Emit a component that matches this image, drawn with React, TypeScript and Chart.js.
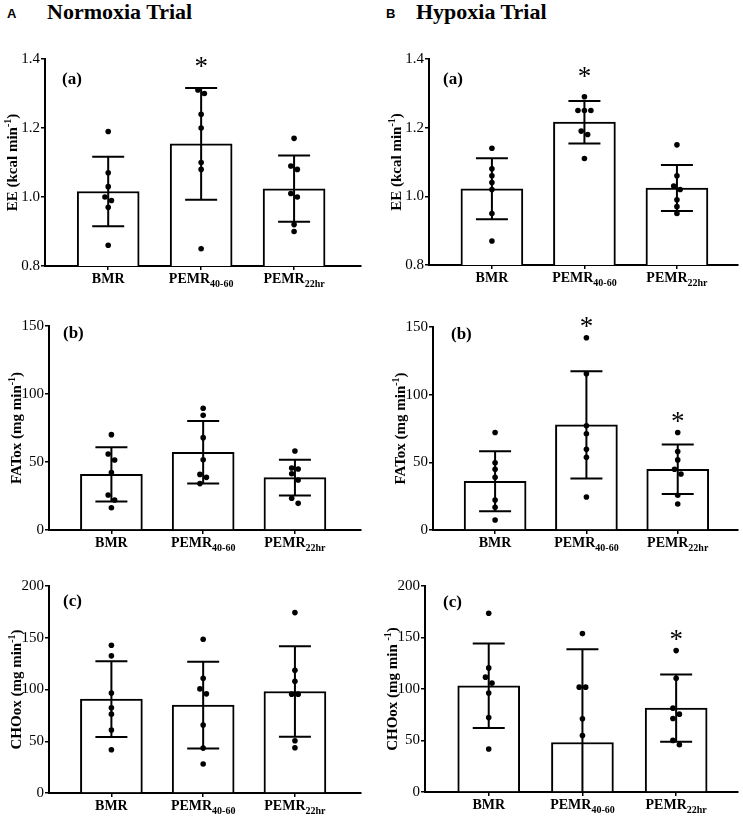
import React, { useEffect, useRef } from 'react';
import { Chart, registerables } from 'chart.js';

Chart.register(...registerables);

const SERIF = "'Liberation Serif', 'Times New Roman', serif";
const SANS = "'Liberation Sans', Arial, sans-serif";

// categories: main text + subscript
const categoryNames = ['BMR', 'PEMR', 'PEMR'];
const categorySubs = ['', '40-60', '22hr'];

// y ticks
const eeTicks = [0.8, 1.0, 1.2, 1.4];
const eeTickLabels = ['0.8', '1.0', '1.2', '1.4'];
const fatTicks = [0, 50, 100, 150];
const fatTickLabels = ['0', '50', '100', '150'];
const choTicks = [0, 50, 100, 150, 200];
const choTickLabels = ['0', '50', '100', '150', '200'];

// axis titles: text, superscript, closing
const eeTitle = ['EE (kcal min', '-1', ')'];
const fatTitle = ['FATox (mg min', '-1', ')'];
const choTitle = ['CHOox (mg min', '-1', ')'];
const choHypTitle = ['CHOox (mg min ', '-1', ')'];

// Normoxia (a) EE
const eeNormMean = [1.016, 1.154, 1.024];
const eeNormSd = [0.101, 0.162, 0.096];
const eeNormPoints = [
  [1.19, 1.07, 1.03, 1.0, 0.99, 0.97, 0.86],
  [1.31, 1.3, 1.24, 1.2, 1.1, 1.08, 0.85],
  [1.17, 1.09, 1.08, 1.01, 1.0, 0.92, 0.9],
];
const eeNormStars = [null, 1.39, null];

// Normoxia (b) FATox
const fatNormMean = [40.9, 57.1, 38.5];
const fatNormSd = [20.0, 23.0, 13.2];
const fatNormPoints = [
  [70.1, 55.9, 51.5, 42.2, 25.7, 22.1, 16.4],
  [89.5, 84.3, 67.9, 51.7, 40.9, 38.7, 34.1],
  [58.1, 45.6, 44.9, 41.4, 36.8, 23.3, 19.6],
];
const fatNormStars = [null, null, null];

// Normoxia (c) CHOox
const choNormMean = [90.7, 84.9, 98.1];
const choNormSd = [36.6, 41.8, 43.8];
const choNormPoints = [
  [142.8, 132.5, 96.5, 82.3, 76.2, 60.8, 41.8],
  [148.6, 110.9, 100.6, 95.8, 65.6, 43.4, 28.0],
  [174.3, 118.6, 108.0, 95.5, 95.5, 50.5, 43.7],
];
const choNormStars = [null, null, null];

// Hypoxia (a) EE
const eeHypMean = [1.022, 1.216, 1.024];
const eeHypSd = [0.089, 0.062, 0.067];
const eeHypPoints = [
  [1.14, 1.08, 1.06, 1.04, 1.02, 0.95, 0.87],
  [1.29, 1.25, 1.25, 1.25, 1.19, 1.18, 1.11],
  [1.15, 1.06, 1.03, 1.02, 0.99, 0.97, 0.95],
];
const eeHypStars = [null, 1.36, null];

// Hypoxia (b) FATox
const fatHypMean = [36.0, 77.7, 44.9];
const fatHypSd = [22.2, 39.6, 18.3];
const fatHypPoints = [
  [72.0, 49.6, 44.9, 39.0, 22.2, 16.8, 7.4],
  [142.1, 115.5, 77.0, 71.1, 59.7, 53.8, 24.4],
  [72.0, 58.0, 51.8, 44.9, 41.4, 25.7, 19.2],
];
const fatHypStars = [null, 153, 82.8];

// Hypoxia (c) CHOox
const choHypMean = [103.1, 48.1, 81.4];
const choHypSd = [41.0, 90.5, 32.6];
const choHypPoints = [
  [173.5, 120.5, 111.5, 105.7, 96.0, 72.4, 41.7],
  [153.8, 101.8, 101.8, 71.1, 54.9],
  [137.3, 110.5, 81.4, 75.6, 71.4, 50.1, 45.9],
];
const choHypStars = [null, null, 151.5];

const X_MIN = -0.68;
const PAD_T = 40;
const PAD_R = 3;
const X_H = 30;
const DOT_GAP = 6.3;
const DOT_STEP = 6.5;
const CAP_HALF = 16;

interface Layout {
  left: number;
  axisX: number;
  top: number;
  bottom: number;
  right: number;
  xMax: number;
  tagDx: number;
  tagDy: number;
}

interface PanelDef {
  layout: Layout;
  mean: number[];
  sd: number[];
  points: number[][];
  stars: (number | null)[];
  ticks: number[];
  tickLabels: string[];
  title: string[];
  tag: string;
}

const panels: PanelDef[] = [
  {
    layout: { left: 0, axisX: 45, top: 59, bottom: 266, right: 362, xMax: 2.72, tagDx: 17, tagDy: 21 },
    mean: eeNormMean, sd: eeNormSd, points: eeNormPoints, stars: eeNormStars,
    ticks: eeTicks, tickLabels: eeTickLabels, title: eeTitle, tag: '(a)',
  },
  {
    layout: { left: 0, axisX: 49, top: 326, bottom: 530, right: 362, xMax: 2.72, tagDx: 14, tagDy: 8 },
    mean: fatNormMean, sd: fatNormSd, points: fatNormPoints, stars: fatNormStars,
    ticks: fatTicks, tickLabels: fatTickLabels, title: fatTitle, tag: '(b)',
  },
  {
    layout: { left: 0, axisX: 49, top: 586, bottom: 793, right: 362, xMax: 2.72, tagDx: 14, tagDy: 16 },
    mean: choNormMean, sd: choNormSd, points: choNormPoints, stars: choNormStars,
    ticks: choTicks, tickLabels: choTickLabels, title: choTitle, tag: '(c)',
  },
  {
    layout: { left: 370, axisX: 429, top: 59, bottom: 265, right: 739, xMax: 2.66, tagDx: 14, tagDy: 21 },
    mean: eeHypMean, sd: eeHypSd, points: eeHypPoints, stars: eeHypStars,
    ticks: eeTicks, tickLabels: eeTickLabels, title: eeTitle, tag: '(a)',
  },
  {
    layout: { left: 370, axisX: 433, top: 327, bottom: 530, right: 739, xMax: 2.66, tagDx: 18, tagDy: 8 },
    mean: fatHypMean, sd: fatHypSd, points: fatHypPoints, stars: fatHypStars,
    ticks: fatTicks, tickLabels: fatTickLabels, title: fatTitle, tag: '(b)',
  },
  {
    layout: { left: 370, axisX: 425, top: 586, bottom: 792, right: 739, xMax: 2.66, tagDx: 18, tagDy: 17 },
    mean: choHypMean, sd: choHypSd, points: choHypPoints, stars: choHypStars,
    ticks: choTicks, tickLabels: choTickLabels, title: choHypTitle, tag: '(c)',
  },
];

// spread dots that would overlap sideways (like a small beeswarm), offsets in px
function spreadOffsets(values: number[], pxPerUnit: number): number[] {
  const order = values.map((_, i) => i).sort((a, b) => values[b] - values[a]);
  const offsets = new Array(values.length).fill(0);
  let cluster: number[] = [];
  const flush = () => {
    const n = cluster.length;
    if (n > 1) {
      const span = (values[cluster[0]] - values[cluster[n - 1]]) * pxPerUnit;
      cluster.forEach((idx, k) => {
        offsets[idx] = span < DOT_GAP
          ? (k - (n - 1) / 2) * DOT_STEP
          : (k % 2 === 0 ? -DOT_STEP / 2 : DOT_STEP / 2);
      });
    }
    cluster = [];
  };
  order.forEach((idx, k) => {
    if (k > 0 && (values[order[k - 1]] - values[idx]) * pxPerUnit >= DOT_GAP) flush();
    cluster.push(idx);
  });
  flush();
  return offsets;
}

const Panel: React.FC<{ def: PanelDef }> = ({ def }) => {
  const canvasRef = useRef<HTMLCanvasElement | null>(null);
  const { layout: l } = def;
  const width = l.right + PAD_R - l.left;
  const height = PAD_T + (l.bottom - l.top) + X_H;

  useEffect(() => {
    if (!canvasRef.current) return;
    const ctx = canvasRef.current.getContext('2d');
    if (!ctx) return;

    const yMin = def.ticks[0];
    const yMax = def.ticks[def.ticks.length - 1];
    const pxPerY = (l.bottom - l.top) / (yMax - yMin);
    const pxPerX = (l.right - l.axisX) / (l.xMax - X_MIN);

    const dots: { x: number; y: number }[] = [];
    def.points.forEach((vals, i) => {
      const offs = spreadOffsets(vals, pxPerY);
      vals.forEach((v, k) => dots.push({ x: i + offs[k] / pxPerX, y: v }));
    });

    const decor = {
      id: 'decor',
      afterDatasetDraw(c: any, args: any) {
        if (args.meta.type !== 'bar') return;
        const { ctx: g, chartArea: a, scales: { x, y } } = c;
        g.save();
        g.strokeStyle = '#000';
        g.lineWidth = 2;
        def.mean.forEach((m, i) => {
          const cx = x.getPixelForValue(i);
          const top = y.getPixelForValue(m + def.sd[i]);
          const lowRaw = y.getPixelForValue(m - def.sd[i]);
          const low = Math.min(lowRaw, a.bottom);
          g.beginPath();
          g.moveTo(cx, top);
          g.lineTo(cx, low);
          g.moveTo(cx - CAP_HALF, top);
          g.lineTo(cx + CAP_HALF, top);
          if (lowRaw <= a.bottom) {
            g.moveTo(cx - CAP_HALF, low);
            g.lineTo(cx + CAP_HALF, low);
          }
          g.stroke();
        });
        g.restore();
      },
      afterDraw(c: any) {
        const { ctx: g, chartArea: a, scales: { x, y } } = c;
        g.save();
        g.fillStyle = '#000';
        g.textAlign = 'left';
        g.textBaseline = 'alphabetic';

        // category labels with subscripts
        categoryNames.forEach((name, i) => {
          const sub = categorySubs[i];
          g.font = `bold 14px ${SERIF}`;
          const w1 = g.measureText(name).width;
          g.font = `bold 10px ${SERIF}`;
          const w2 = sub ? g.measureText(sub).width : 0;
          const start = x.getPixelForValue(i) - (w1 + w2) / 2;
          const base = a.bottom + 17;
          g.font = `bold 14px ${SERIF}`;
          g.fillText(name, start, base);
          if (sub) {
            g.font = `bold 10px ${SERIF}`;
            g.fillText(sub, start + w1, base + 4);
          }
        });

        // panel tag
        g.font = `bold 17px ${SERIF}`;
        g.textBaseline = 'middle';
        g.fillText(def.tag, a.left + l.tagDx, a.top + l.tagDy);

        // significance stars
        g.font = `27px ${SERIF}`;
        g.textAlign = 'center';
        g.textBaseline = 'alphabetic';
        const m = g.measureText('*');
        const shift = (m.actualBoundingBoxAscent - m.actualBoundingBoxDescent) / 2;
        def.stars.forEach((s, i) => {
          if (s === null) return;
          g.fillText('*', x.getPixelForValue(i), y.getPixelForValue(s) + shift);
        });

        // rotated y title with superscript
        const [t1, t2, t3] = def.title;
        g.translate(a.left - 32, (a.top + a.bottom) / 2);
        g.rotate(-Math.PI / 2);
        g.textAlign = 'left';
        g.font = `bold 15px ${SERIF}`;
        const w1 = g.measureText(t1).width;
        const w3 = g.measureText(t3).width;
        g.font = `bold 10px ${SERIF}`;
        const w2 = g.measureText(t2).width;
        let px = -(w1 + w2 + w3) / 2;
        const base = 4;
        g.font = `bold 15px ${SERIF}`;
        g.fillText(t1, px, base);
        px += w1;
        g.font = `bold 10px ${SERIF}`;
        g.fillText(t2, px, base - 6);
        px += w2;
        g.font = `bold 15px ${SERIF}`;
        g.fillText(t3, px, base);
        g.restore();
      },
    };

    const chart = new Chart(ctx, {
      type: 'bar',
      data: {
        datasets: [
          {
            type: 'bar',
            data: def.mean.map((m, i) => ({ x: i, y: m })),
            backgroundColor: '#ffffff',
            borderColor: '#000000',
            borderWidth: 2,
            barThickness: 62,
            order: 2,
          } as any,
          {
            type: 'scatter',
            data: dots,
            pointRadius: 2.8,
            pointBackgroundColor: '#000000',
            pointBorderWidth: 0,
            order: 1,
          } as any,
        ],
      },
      options: {
        animation: false,
        responsive: false,
        events: [],
        layout: { padding: { top: PAD_T, right: PAD_R, left: 0, bottom: 0 } },
        plugins: { legend: { display: false }, tooltip: { enabled: false } },
        scales: {
          x: {
            type: 'linear',
            min: X_MIN,
            max: l.xMax,
            offset: false,
            z: 1,
            afterBuildTicks: (s: any) => { s.ticks = categoryNames.map((_, i) => ({ value: i })); },
            afterFit: (s: any) => { s.height = X_H; },
            ticks: { display: false },
            grid: { offset: false, drawOnChartArea: false, drawTicks: true, tickLength: 4, color: '#000', lineWidth: 1.5 },
            border: { display: true, color: '#000', width: 2 },
          },
          y: {
            type: 'linear',
            min: yMin,
            max: yMax,
            z: 1,
            afterBuildTicks: (s: any) => { s.ticks = def.ticks.map((v) => ({ value: v })); },
            afterFit: (s: any) => { s.width = l.axisX - l.left; },
            ticks: {
              callback: (_v: any, i: number) => def.tickLabels[i],
              font: { family: SERIF, size: 15 },
              color: '#000',
              padding: 1,
            },
            grid: { drawOnChartArea: false, drawTicks: true, tickLength: 4, color: '#000', lineWidth: 1.5 },
            border: { display: true, color: '#000', width: 2 },
          },
        },
      } as any,
      plugins: [decor],
    });

    return () => chart.destroy();
  }, [def]);

  return (
    <canvas
      ref={canvasRef}
      width={width}
      height={height}
      style={{ position: 'absolute', left: l.left, top: l.top - PAD_T, width, height }}
    />
  );
};

const headStyle: React.CSSProperties = { position: 'absolute', margin: 0, color: '#000', whiteSpace: 'nowrap' };

export default function App() {
  return (
    <div style={{ position: 'absolute', left: 0, top: 0, width: 743, height: 819, background: '#fff', overflow: 'hidden' }}>
      <div style={{ ...headStyle, left: 7, top: 7, font: `bold 13px/13px ${SANS}` }}>A</div>
      <div style={{ ...headStyle, left: 47, top: 1, font: `bold 22px/22px ${SERIF}` }}>Normoxia Trial</div>
      <div style={{ ...headStyle, left: 386, top: 7, font: `bold 13px/13px ${SANS}` }}>B</div>
      <div style={{ ...headStyle, left: 416, top: 1, font: `bold 22px/22px ${SERIF}` }}>Hypoxia Trial</div>
      {panels.map((p, i) => (
        <Panel key={i} def={p} />
      ))}
    </div>
  );
}
